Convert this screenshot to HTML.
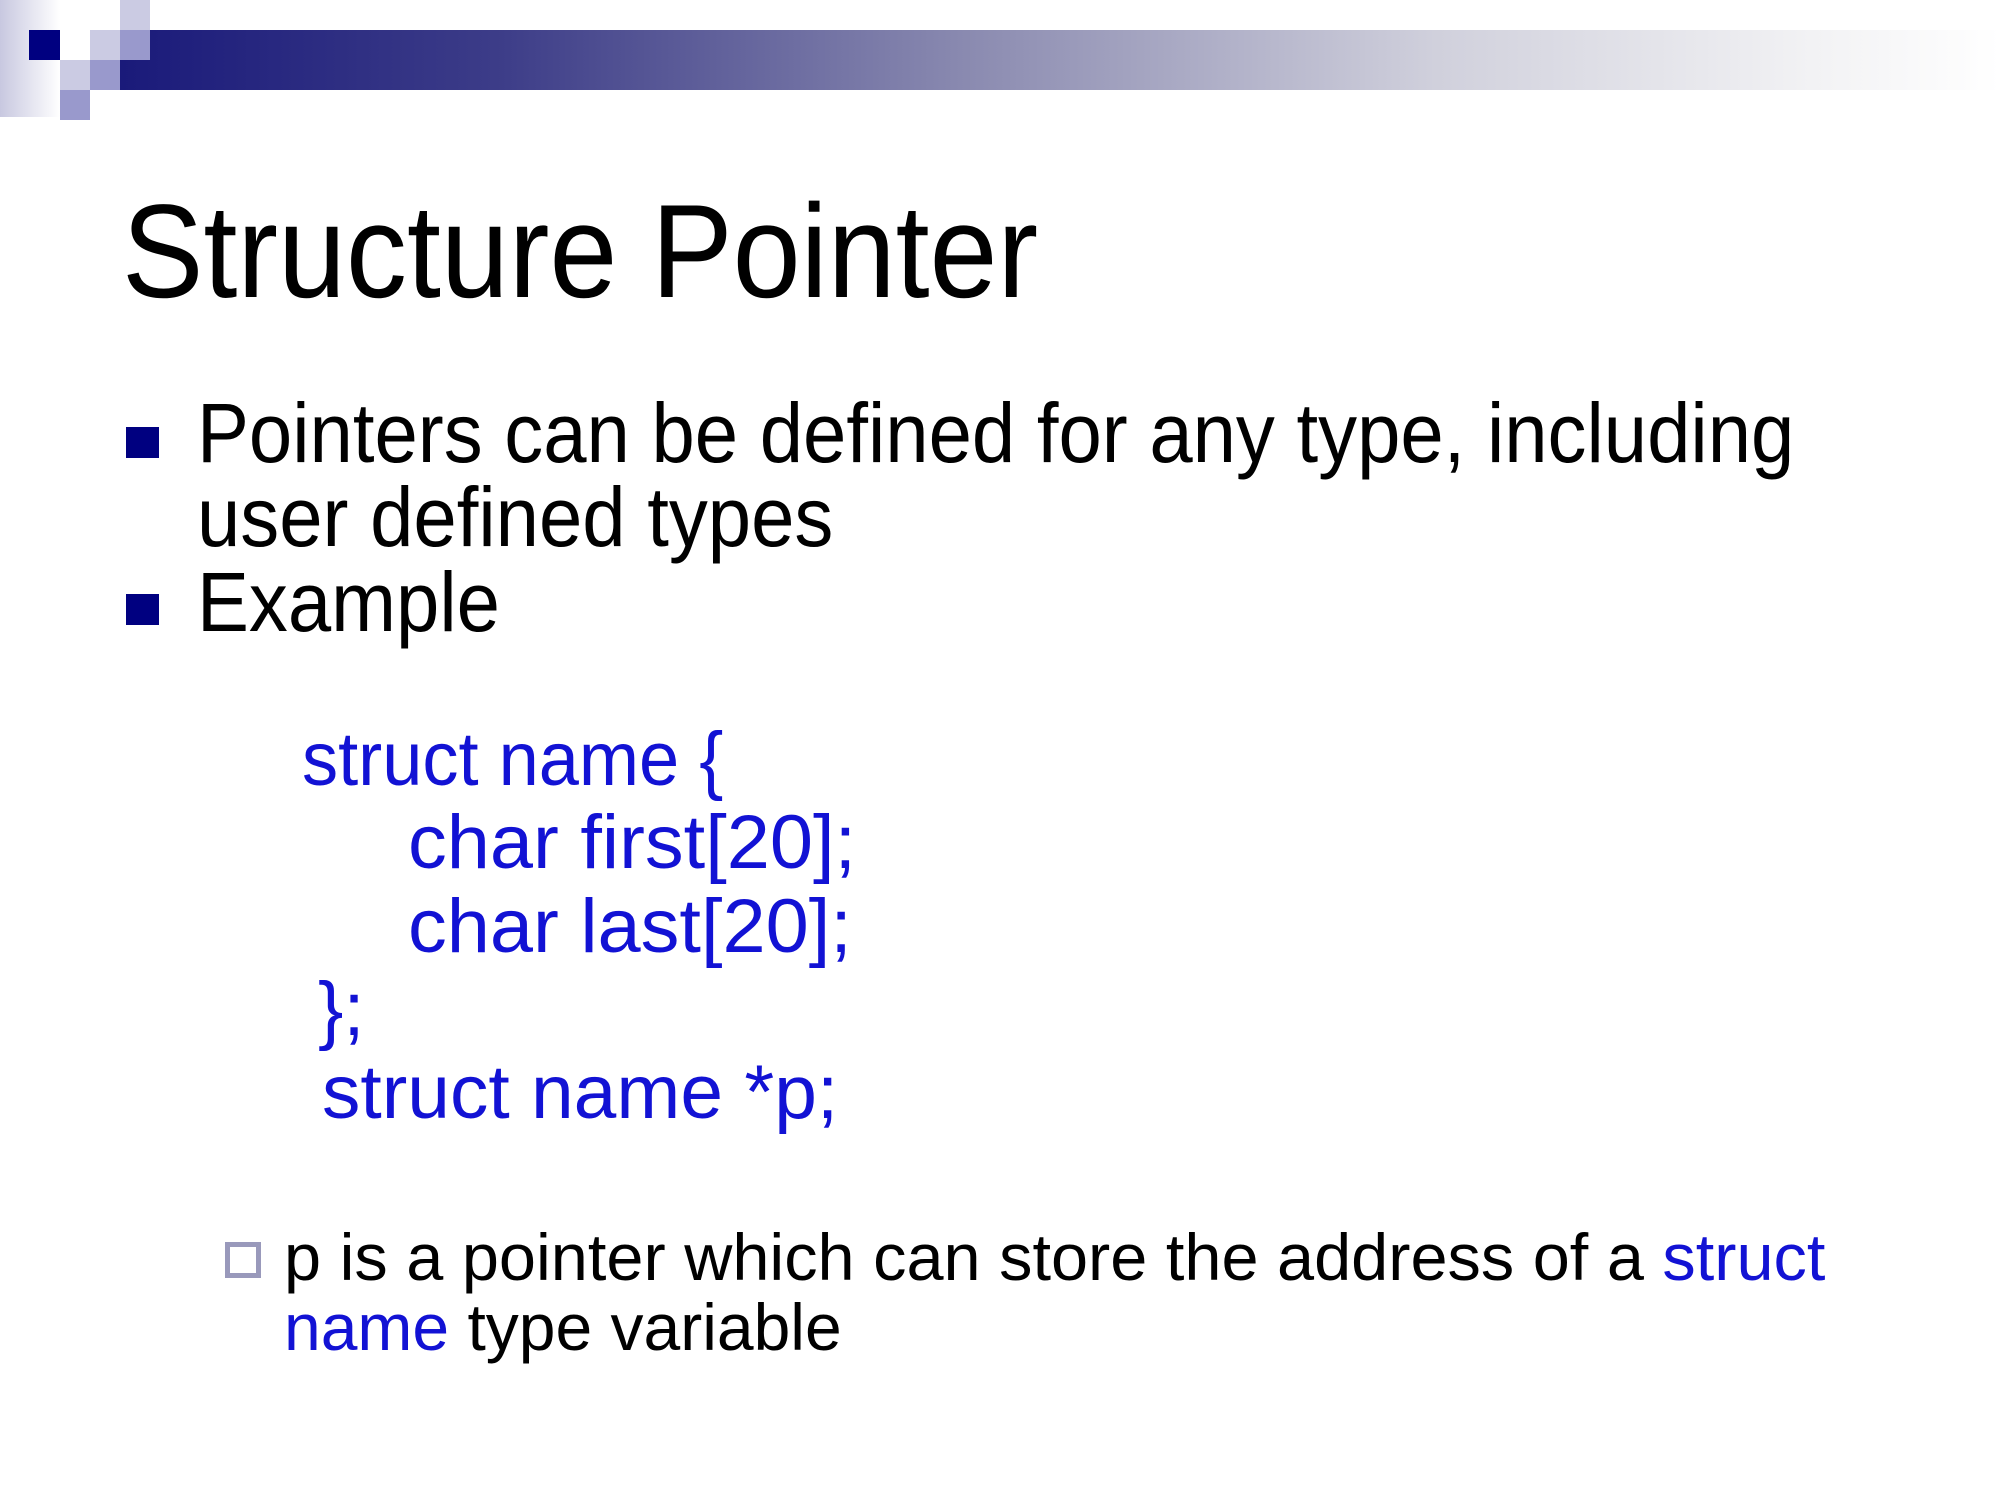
<!DOCTYPE html>
<html><head><meta charset="utf-8"><style>
body{margin:0;width:2000px;height:1500px;background:#fff;position:relative;overflow:hidden;font-family:"Liberation Sans",Arial,sans-serif}
.a{position:absolute}
.t{position:absolute;line-height:1;white-space:nowrap;transform-origin:0 0}
.b{color:#1212d4}
.s1{transform:scaleX(0.918)}
.s2{transform:scaleX(0.927)}
</style></head><body>
<div class="a" style="left:0;top:0;width:60px;height:117px;background:linear-gradient(90deg,#c8c8e0,#fff)"></div>
<div class="a" style="left:120px;top:30px;width:1880px;height:60px;background:linear-gradient(90deg,#1a1a7a 0%,#3c3c88 20%,#8a8ab0 45%,#d0d0dc 70%,#f2f2f4 90%,#fff 100%)"></div>
<div class="a" style="left:29px;top:30px;width:31px;height:30px;background:#000080"></div>
<div class="a" style="left:120px;top:0;width:30px;height:30px;background:#cbcbe3"></div>
<div class="a" style="left:90px;top:30px;width:30px;height:30px;background:#cbcbe3"></div>
<div class="a" style="left:120px;top:30px;width:30px;height:30px;background:#9999cc"></div>
<div class="a" style="left:60px;top:60px;width:30px;height:30px;background:#cbcbe3"></div>
<div class="a" style="left:90px;top:60px;width:30px;height:30px;background:#9999cc"></div>
<div class="a" style="left:60px;top:90px;width:30px;height:30px;background:#9999cc"></div>

<div class="t s1" style="left:122px;top:186px;font-size:133px">Structure Pointer</div>

<div class="a" style="left:126px;top:427px;width:33px;height:31px;background:#000080"></div>
<div class="a" style="left:126px;top:594px;width:33px;height:31px;background:#000080"></div>
<div class="t s2" style="left:197px;top:391px;font-size:84px">Pointers can be defined for any type, including</div>
<div class="t s2" style="left:197px;top:475px;font-size:84px">user defined types</div>
<div class="t s2" style="left:197px;top:560px;font-size:84px">Example</div>

<div class="t b" style="left:302px;top:722px;font-size:76px;transform:scaleX(0.95)">struct name {</div>
<div class="t b" style="left:408px;top:805px;font-size:76px;transform:scaleX(1.02)">char first[20];</div>
<div class="t b" style="left:408px;top:889px;font-size:76px;transform:scaleX(1.02)">char last[20];</div>
<div class="t b" style="left:318px;top:972px;font-size:76px">};</div>
<div class="t b" style="left:322px;top:1055px;font-size:76px;transform:scaleX(1.01)">struct name *p;</div>

<div class="a" style="left:225px;top:1242px;width:26px;height:26px;border:5px solid #9999bb"></div>
<div class="t" style="left:284px;top:1224px;font-size:66px;transform:scaleX(1.01)">p is a pointer which can store the address of a <span class="b">struct</span></div>
<div class="t" style="left:284px;top:1294px;font-size:66px">
<span class="b">name</span> type variable</div>
</body></html>
